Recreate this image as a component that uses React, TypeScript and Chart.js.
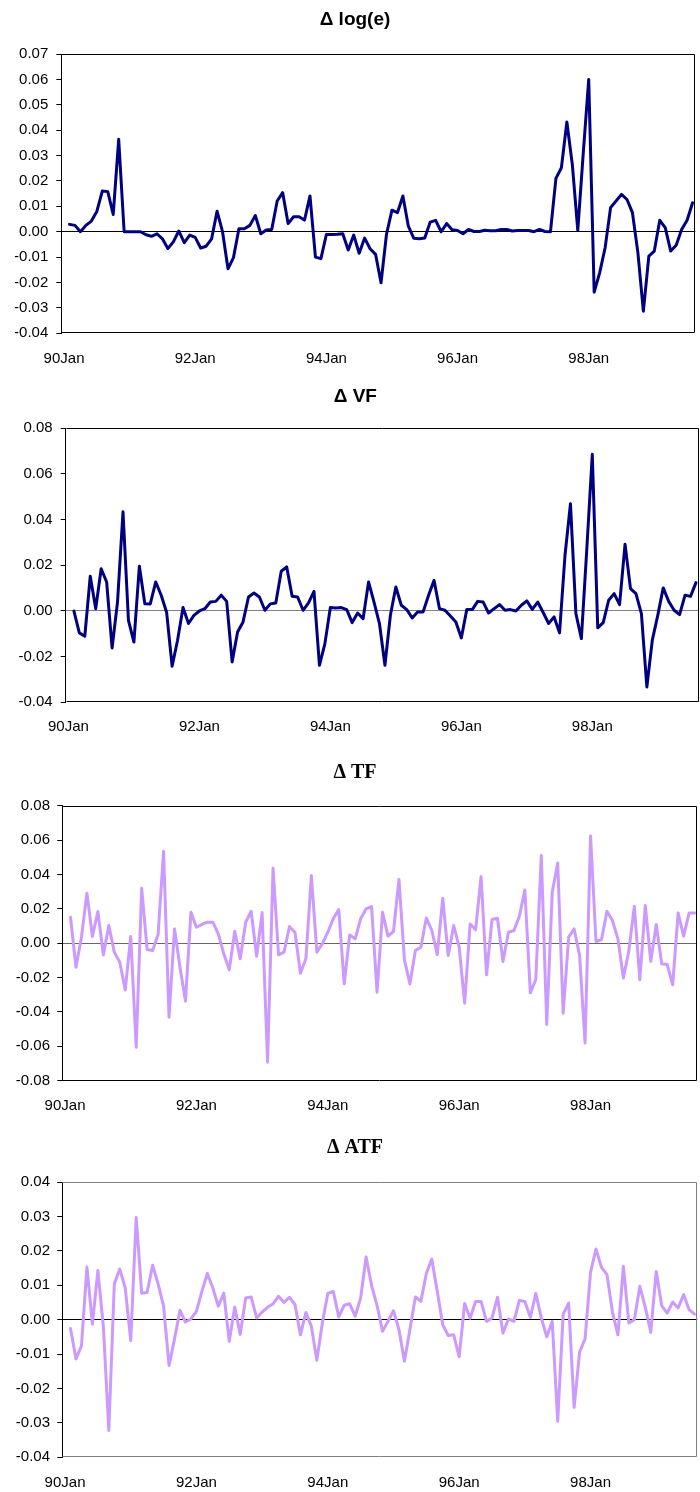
import React, { useEffect, useRef } from "react";
import { Chart, registerables } from "chart.js";

Chart.register(...registerables);

// Monthly category axis: 90Jan .. 99Aug
const MONTH_NAMES = ["Jan", "Feb", "Mar", "Apr", "May", "Jun", "Jul", "Aug", "Sep", "Oct", "Nov", "Dec"];
const FIRST_YEAR = 90;
const MONTH_COUNT = 116;
const LABEL_EVERY = 24;
const categories: string[] = Array.from(
  { length: MONTH_COUNT },
  (_, i) => `${FIRST_YEAR + Math.floor(i / 12)}${MONTH_NAMES[i % 12]}`
);

// Monthly first differences (first month has no difference)
const dLogE: (number | null)[] = [
  null, 0.0029, 0.0025, 0.0000, 0.0025, 0.0042, 0.0080, 0.0160, 0.0158, 0.0068, 0.0364,
  0.0000, 0.0000, 0.0000, 0.0000, -0.0012, -0.0018, -0.0008, -0.0028, -0.0066, -0.0040,
  0.0003, -0.0043, -0.0013, -0.0022, -0.0064, -0.0057, -0.0028, 0.0081, 0.0000, -0.0146,
  -0.0102, 0.0012, 0.0012, 0.0025, 0.0064, -0.0008, 0.0007, 0.0009, 0.0121, 0.0154,
  0.0032, 0.0059, 0.0059, 0.0046, 0.0141, -0.0100, -0.0106, -0.0011, -0.0011, -0.0010,
  -0.0008, -0.0072, -0.0013, -0.0085, -0.0025, -0.0067, -0.0089, -0.0201, -0.0010, 0.0085,
  0.0075, 0.0141, 0.0022, -0.0026, -0.0028, -0.0025, 0.0038, 0.0045, 0.0000, 0.0032,
  0.0008, 0.0005, -0.0008, 0.0009, 0.0001, 0.0001, 0.0006, 0.0004, 0.0004, 0.0009,
  0.0009, 0.0003, 0.0005, 0.0005, 0.0005, 0.0000, 0.0009, 0.0001, 0.0000, 0.0210,
  0.0252, 0.0432, 0.0265, 0.0005, 0.0310, 0.0600, -0.0238, -0.0162, -0.0063, 0.0095,
  0.0121, 0.0147, 0.0127, 0.0075, -0.0083, -0.0313, -0.0096, -0.0076, 0.0045, 0.0016,
  -0.0076, -0.0053, 0.0009, 0.0045, 0.0114,
];

const dVF: (number | null)[] = [
  null, 0.0000, -0.0096, -0.0111, 0.0152, 0.0010, 0.0185, 0.0127, -0.0162, 0.0040, 0.0434,
  -0.0041, -0.0136, 0.0196, 0.0032, 0.0031, 0.0127, 0.0069, -0.0007, -0.0242, -0.0128,
  0.0015, -0.0055, -0.0019, 0.0000, 0.0010, 0.0039, 0.0042, 0.0069, 0.0042, -0.0223,
  -0.0092, -0.0048, 0.0061, 0.0079, 0.0061, 0.0003, 0.0031, 0.0035, 0.0174, 0.0193,
  0.0064, 0.0061, 0.0003, 0.0035, 0.0086, -0.0238, -0.0143, 0.0015, 0.0013, 0.0015,
  0.0006, -0.0051, -0.0009, -0.0034, 0.0127, 0.0039, -0.0055, -0.0238, -0.0019, 0.0105,
  0.0025, 0.0006, -0.0031, -0.0004, -0.0004, 0.0069, 0.0134, 0.0010, 0.0003, -0.0022,
  -0.0048, -0.0118, 0.0006, 0.0006, 0.0042, 0.0039, -0.0009, 0.0010, 0.0028, 0.0003,
  0.0006, 0.0000, 0.0025, 0.0044, 0.0007, 0.0039, -0.0007, -0.0055, -0.0026, -0.0096,
  0.0244, 0.0470, -0.0012, -0.0121, 0.0273, 0.0686, -0.0074, -0.0051, 0.0047, 0.0076,
  0.0028, 0.0292, 0.0098, 0.0076, -0.0012, -0.0333, -0.0128, -0.0019, 0.0101, 0.0042,
  0.0003, -0.0016, 0.0069, 0.0064, 0.0124,
];

const dTF: (number | null)[] = [
  null, 0.0151, -0.0140, 0.0035, 0.0291, 0.0039, 0.0184, -0.0068, 0.0103, -0.0052, -0.0111,
  -0.0272, 0.0039, -0.0605, 0.0320, -0.0037, -0.0043, 0.0050, 0.0535, -0.0431, 0.0083,
  -0.0140, -0.0337, 0.0180, 0.0093, 0.0109, 0.0122, 0.0122, 0.0054, -0.0062, -0.0155,
  0.0070, -0.0091, 0.0122, 0.0186, -0.0076, 0.0178, -0.0692, 0.0436, -0.0068, -0.0052,
  0.0097, 0.0064, -0.0175, -0.0091, 0.0394, -0.0052, -0.0004, 0.0064, 0.0142, 0.0196,
  -0.0237, 0.0048, 0.0025, 0.0142, 0.0200, 0.0213, -0.0285, 0.0180, 0.0041, 0.0068,
  0.0370, -0.0097, -0.0237, -0.0043, -0.0023, 0.0147, 0.0074, -0.0066, 0.0262, -0.0072,
  0.0103, -0.0023, -0.0349, 0.0112, 0.0078, 0.0388, -0.0184, 0.0138, 0.0145, -0.0107,
  0.0064, 0.0074, 0.0157, 0.0310, -0.0289, -0.0211, 0.0510, -0.0473, 0.0297, 0.0467,
  -0.0407, 0.0035, 0.0083, -0.0072, -0.0580, 0.0623, 0.0010, 0.0021, 0.0186, 0.0132,
  0.0025, -0.0202, -0.0043, 0.0215, -0.0213, 0.0219, -0.0105, 0.0109, -0.0120, -0.0124,
  -0.0242, 0.0176, 0.0041, 0.0175, 0.0176,
];

const dATF: (number | null)[] = [
  null, -0.0026, -0.0114, -0.0076, 0.0153, -0.0013, 0.0143, -0.0020, -0.0322, 0.0104, 0.0147,
  0.0092, -0.0061, 0.0297, 0.0077, 0.0079, 0.0158, 0.0104, 0.0039, -0.0133, -0.0056,
  0.0027, -0.0007, 0.0002, 0.0024, 0.0082, 0.0134, 0.0092, 0.0039, 0.0077, -0.0063,
  0.0037, -0.0043, 0.0063, 0.0066, 0.0005, 0.0022, 0.0036, 0.0046, 0.0068, 0.0050,
  0.0065, 0.0044, -0.0044, 0.0021, -0.0019, -0.0118, -0.0010, 0.0076, 0.0082, 0.0008,
  0.0042, 0.0046, 0.0010, 0.0063, 0.0182, 0.0099, 0.0041, -0.0034, -0.0005, 0.0026,
  -0.0029, -0.0121, -0.0029, 0.0066, 0.0053, 0.0134, 0.0176, 0.0082, -0.0015, -0.0046,
  -0.0044, -0.0108, 0.0047, 0.0004, 0.0053, 0.0053, -0.0005, 0.0005, 0.0065, -0.0039,
  0.0002, -0.0005, 0.0056, 0.0053, 0.0007, 0.0076, 0.0005, -0.0050, -0.0005, -0.0295,
  0.0016, 0.0048, -0.0255, -0.0094, -0.0056, 0.0138, 0.0205, 0.0152, 0.0131, 0.0022,
  -0.0044, 0.0155, -0.0010, 0.0000, 0.0097, 0.0036, -0.0037, 0.0140, 0.0041, 0.0019,
  0.0051, 0.0034, 0.0073, 0.0029, 0.0016,
];

const SANS = "'Liberation Sans', Arial, Helvetica, sans-serif";
const SERIF = "'Liberation Serif', 'Times New Roman', serif";
const NAVY = "#000080";
const LILAC = "#CC99FF";

type PanelSpec = {
  title: string;
  values: (number | null)[];
  color: string;
  yMin: number;
  yMax: number;
  yStep: number;
  top: number;
  height: number;
  padLeft: number;
  padRight: number;
  yWidth: number;
  xHeight: number;
  titleFamily: string;
  titleSize: number;
  titlePadTop: number;
  titlePadBottom: number;
  xGap: number;
  yPad: number;
  zeroColor: string;
  frameColor: string;
};

const panels: PanelSpec[] = [
  {
    title: "\u0394 log(e)", values: dLogE, color: NAVY, yMin: -0.04, yMax: 0.07, yStep: 0.01,
    top: 0, height: 374, padLeft: 14.7, padRight: 4.7, yWidth: 46.6, xHeight: 40.7,
    titleFamily: SANS, titleSize: 19, titlePadTop: 8.6, titlePadBottom: 22.6,
    xGap: 16.5, yPad: 8, zeroColor: "#000000", frameColor: "#000000",
  },
  {
    title: "\u0394 VF", values: dVF, color: NAVY, yMin: -0.04, yMax: 0.08, yStep: 0.02,
    top: 374, height: 376, padLeft: 11.9, padRight: 1.3, yWidth: 53.8, xHeight: 47.7,
    titleFamily: SANS, titleSize: 19, titlePadTop: 11.3, titlePadBottom: 20.2,
    xGap: 15.2, yPad: 8, zeroColor: "#808080", frameColor: "#000000",
  },
  {
    title: "\u0394 TF", values: dTF, color: LILAC, yMin: -0.08, yMax: 0.08, yStep: 0.02,
    top: 750, height: 375, padLeft: 12.7, padRight: 2.7, yWidth: 49.6, xHeight: 44.3,
    titleFamily: SERIF, titleSize: 20, titlePadTop: 11.3, titlePadBottom: 20.4,
    xGap: 16.1, yPad: 7.3, zeroColor: "#666666", frameColor: "#000000",
  },
  {
    title: "\u0394 ATF", values: dATF, color: LILAC, yMin: -0.04, yMax: 0.04, yStep: 0.01,
    top: 1125, height: 367, padLeft: 12.7, padRight: 2.7, yWidth: 49.6, xHeight: 34.7,
    titleFamily: SERIF, titleSize: 20, titlePadTop: 11.3, titlePadBottom: 21.7,
    xGap: 16.8, yPad: 7.3, zeroColor: "#000000", frameColor: "#808080",
  },
];

// Plot-area border drawn underneath the series line
const framePlugin = {
  id: "plotFrame",
  beforeDatasetsDraw(chart: any, _args: any, opts: any) {
    const { ctx, chartArea: a } = chart;
    const l = Math.round(a.left) + 0.5;
    const r = Math.round(a.right) - 0.5;
    const t = Math.round(a.top) + 0.5;
    const b = Math.round(a.bottom) - 0.5;
    ctx.save();
    ctx.strokeStyle = opts.color || "#000";
    ctx.lineWidth = 1;
    ctx.beginPath();
    ctx.moveTo(l, t);
    ctx.lineTo(r, t);
    ctx.lineTo(r, b);
    ctx.lineTo(l, b);
    ctx.stroke();
    ctx.restore();
  },
};

const fmt = (v: number | string) => {
  const n = Number(v);
  return Math.abs(n) < 1e-9 ? "0.00" : n.toFixed(2);
};

function Panel({ spec }: { spec: PanelSpec }) {
  const ref = useRef<HTMLCanvasElement>(null);

  useEffect(() => {
    if (!ref.current) return;
    const chart = new Chart(ref.current, {
      type: "line",
      data: {
        labels: categories,
        datasets: [
          {
            data: spec.values,
            borderColor: spec.color,
            backgroundColor: spec.color,
            borderWidth: 3,
            pointRadius: 0,
            pointHoverRadius: 0,
            tension: 0,
            fill: false,
            borderJoinStyle: "round",
            borderCapStyle: "round",
          },
        ],
      },
      options: {
        responsive: false,
        animation: false,
        devicePixelRatio: 1,
        events: [],
        layout: { padding: { left: spec.padLeft, right: spec.padRight, top: 0, bottom: 0 } },
        plugins: {
          legend: { display: false },
          tooltip: { enabled: false },
          title: {
            display: true,
            text: spec.title,
            color: "#000",
            font: { family: spec.titleFamily, size: spec.titleSize, weight: "bold", lineHeight: 1.2 },
            padding: { top: spec.titlePadTop, bottom: spec.titlePadBottom },
          },
          plotFrame: { color: spec.frameColor },
        } as any,
        scales: {
          x: {
            type: "category",
            offset: true,
            // the gap below the plot comes from an invisible tick length so that
            // tick padding does not widen the right-hand margin
            grid: { display: false, drawTicks: true, tickLength: spec.xGap },
            border: { display: false },
            ticks: {
              autoSkip: false,
              maxRotation: 0,
              minRotation: 0,
              padding: 0,
              color: "#000",
              font: { family: SANS, size: 15 },
              callback: (_v: any, i: number) => (i % LABEL_EVERY === 0 ? categories[i] : ""),
            },
            afterFit: (s: any) => {
              s.height = spec.xHeight;
            },
          },
          y: {
            min: spec.yMin,
            max: spec.yMax,
            ticks: {
              stepSize: spec.yStep,
              padding: spec.yPad,
              color: "#000",
              font: { family: SANS, size: 15 },
              callback: (v: any) => fmt(v),
            },
            grid: {
              color: (c: any) =>
                c.tick && Math.abs(c.tick.value) < 1e-9 ? spec.zeroColor : "rgba(0,0,0,0)",
              tickColor: "#000",
              tickLength: 5,
              lineWidth: 1,
            },
            border: { display: true, color: "#000", width: 1 },
            afterFit: (s: any) => {
              s.width = spec.yWidth;
            },
          },
        },
      },
      plugins: [framePlugin],
    } as any);
    return () => chart.destroy();
  }, [spec]);

  return (
    <canvas
      ref={ref}
      width={700}
      height={spec.height}
      style={{ position: "absolute", left: 0, top: spec.top, width: 700, height: spec.height }}
    />
  );
}

export default function App() {
  return (
    <div style={{ position: "absolute", left: 0, top: 0, width: 700, height: 1492, background: "#fff" }}>
      {panels.map((p) => (
        <Panel key={p.title} spec={p} />
      ))}
    </div>
  );
}
